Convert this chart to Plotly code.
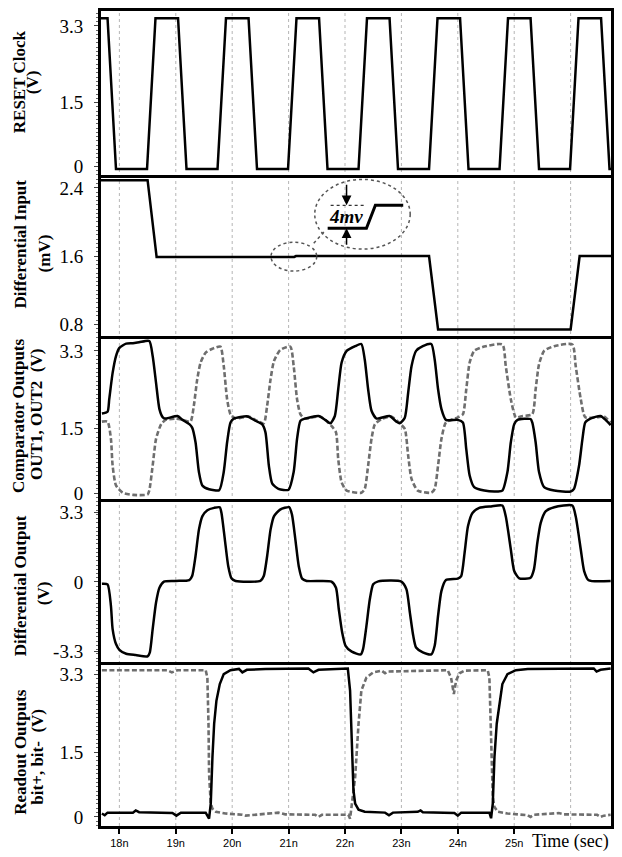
import plotly.graph_objects as go
from plotly.subplots import make_subplots

# ---------------- data (time in ns) ----------------
clock_t = [17.67, 17.79, 17.94, 18.49, 18.64, 19.04, 19.19, 19.74, 19.89, 20.29, 20.44,
           20.99, 21.14, 21.54, 21.69, 22.24, 22.39, 22.79, 22.94, 23.49, 23.64, 24.04,
           24.19, 24.74, 24.89, 25.29, 25.44, 25.99, 26.14, 26.54, 26.69, 26.72]
clock_v = [3.48, 3.48, -0.06, -0.06, 3.48, 3.48, -0.06, -0.06, 3.48, 3.48, -0.06,
           -0.06, 3.48, 3.48, -0.06, -0.06, 3.48, 3.48, -0.06, -0.06, 3.48, 3.48,
           -0.06, -0.06, 3.48, 3.48, -0.06, -0.06, 3.48, 3.48, -0.06, -0.06]

din_t = [17.67, 18.50, 18.66, 21.10, 21.13, 23.49, 23.65, 26.00, 26.16, 26.72]
din_v = [2.49, 2.49, 1.59, 1.59, 1.60, 1.60, 0.74, 0.74, 1.60, 1.60]

out1_t = [17.69, 17.79, 17.82, 17.88, 17.94, 18.00, 18.12, 18.24, 18.35, 18.53, 18.59, 18.65,
          18.71, 18.77, 18.82, 19.03, 19.12, 19.24, 19.29, 19.35, 19.41, 19.47, 19.59, 19.77,
          19.85, 19.91, 19.97, 20.03, 20.27, 20.41, 20.53, 20.59, 20.65, 20.71, 20.82, 21.00,
          21.09, 21.15, 21.21, 21.29, 21.53, 21.65, 21.74, 21.82, 21.88, 21.94, 22.03, 22.18,
          22.29, 22.35, 22.41, 22.47, 22.56, 22.79, 22.91, 22.97, 23.06, 23.12, 23.18, 23.26,
          23.38, 23.53, 23.59, 23.65, 23.71, 23.79, 24.00, 24.09, 24.15, 24.21, 24.29, 24.47,
          24.71, 24.79, 24.88, 24.94, 25.00, 25.06, 25.29, 25.32, 25.38, 25.44, 25.53, 25.71,
          26.00, 26.06, 26.15, 26.21, 26.26, 26.35, 26.53, 26.62, 26.71]
out1_v = [1.85, 1.89, 2.18, 2.79, 3.18, 3.37, 3.47, 3.48, 3.50, 3.53, 3.18, 2.56,
          1.95, 1.76, 1.73, 1.79, 1.70, 1.60, 1.52, 1.18, 0.49, 0.18, 0.09, 0.07,
          0.49, 1.18, 1.64, 1.73, 1.78, 1.68, 1.60, 1.41, 0.64, 0.22, 0.10, 0.08,
          0.49, 1.26, 1.68, 1.73, 1.79, 1.70, 1.62, 1.79, 2.41, 3.03, 3.30, 3.41,
          3.46, 3.10, 2.41, 1.91, 1.73, 1.79, 1.66, 1.62, 1.75, 2.33, 2.95, 3.30,
          3.41, 3.46, 3.10, 2.41, 1.95, 1.70, 1.70, 1.64, 1.02, 0.41, 0.14, 0.06,
          0.04, 0.06, 0.49, 1.18, 1.60, 1.70, 1.72, 1.64, 1.18, 0.49, 0.14, 0.06,
          0.04, 0.10, 0.64, 1.26, 1.64, 1.73, 1.79, 1.70, 1.58]

out2_t = [17.69, 17.79, 17.85, 17.88, 17.94, 18.06, 18.24, 18.50, 18.53, 18.59, 18.65, 18.74,
          18.82, 19.00, 19.12, 19.26, 19.32, 19.38, 19.44, 19.53, 19.65, 19.79, 19.85, 19.91,
          19.97, 20.06, 20.29, 20.44, 20.56, 20.62, 20.68, 20.74, 20.85, 21.03, 21.09, 21.15,
          21.21, 21.29, 21.56, 21.76, 21.84, 21.88, 21.94, 22.03, 22.29, 22.35, 22.41, 22.47,
          22.53, 22.65, 22.82, 22.97, 23.06, 23.12, 23.18, 23.29, 23.53, 23.59, 23.65, 23.71,
          23.79, 24.00, 24.09, 24.15, 24.21, 24.29, 24.47, 24.79, 24.85, 24.94, 25.03, 25.15,
          25.32, 25.38, 25.44, 25.53, 25.71, 26.03, 26.09, 26.18, 26.26, 26.47, 26.59, 26.71]
out2_v = [1.66, 1.66, 1.26, 0.64, 0.18, 0.01, -0.04, -0.03, 0.06, 0.64, 1.26, 1.60,
          1.70, 1.73, 1.70, 1.66, 2.03, 2.64, 3.03, 3.26, 3.35, 3.40, 2.95, 2.18,
          1.83, 1.73, 1.78, 1.68, 1.62, 2.03, 2.64, 3.06, 3.32, 3.40, 2.95, 2.18,
          1.83, 1.73, 1.78, 1.56, 1.41, 0.79, 0.25, 0.06, 0.01, 0.10, 0.64, 1.26,
          1.60, 1.72, 1.78, 1.62, 1.49, 0.87, 0.33, 0.06, 0.01, 0.10, 0.64, 1.26,
          1.64, 1.76, 1.83, 2.41, 3.03, 3.30, 3.40, 3.45, 2.95, 2.18, 1.76, 1.79,
          1.83, 2.41, 2.99, 3.30, 3.41, 3.45, 2.95, 2.18, 1.76, 1.76, 1.78, 1.64]

dout_t = [17.69, 17.79, 17.85, 17.88, 17.94, 18.00, 18.12, 18.29, 18.50, 18.54, 18.59, 18.65,
          18.71, 18.79, 19.00, 19.24, 19.29, 19.35, 19.41, 19.47, 19.56, 19.68, 19.78, 19.81,
          19.87, 19.93, 19.99, 20.06, 20.50, 20.56, 20.62, 20.68, 20.74, 20.85, 21.01, 21.06,
          21.12, 21.18, 21.24, 21.32, 21.76, 21.84, 21.89, 21.95, 22.01, 22.12, 22.28, 22.32,
          22.38, 22.44, 22.50, 22.59, 23.00, 23.09, 23.15, 23.21, 23.26, 23.38, 23.53, 23.59,
          23.65, 23.71, 23.79, 24.00, 24.06, 24.12, 24.18, 24.26, 24.38, 24.59, 24.79, 24.85,
          24.94, 25.00, 25.09, 25.29, 25.35, 25.41, 25.47, 25.56, 25.71, 26.03, 26.09, 26.18,
          26.24, 26.32, 26.71]
dout_v = [-0.08, -0.11, -1.13, -2.23, -2.94, -3.21, -3.40, -3.46, -3.52, -3.33, -2.23, -0.97,
          -0.27, 0.02, 0.05, 0.09, 0.28, 1.23, 2.48, 3.11, 3.40, 3.51, 3.54, 3.27,
          2.01, 0.75, 0.16, 0.05, 0.05, 0.28, 1.23, 2.48, 3.11, 3.43, 3.54, 3.19,
          2.01, 0.75, 0.16, 0.05, 0.02, -0.27, -1.29, -2.39, -3.02, -3.30, -3.43, -3.18,
          -2.08, -0.82, -0.11, 0.03, 0.02, -0.35, -1.45, -2.55, -3.10, -3.33, -3.43, -3.02,
          -1.60, -0.42, 0.09, 0.16, 0.28, 1.38, 2.64, 3.27, 3.51, 3.58, 3.62, 3.11,
          1.54, 0.52, 0.17, 0.20, 0.60, 1.86, 2.80, 3.35, 3.54, 3.62, 3.11, 1.54,
          0.52, 0.08, 0.05]

bitp_t = [17.69, 17.74, 17.79, 18.24, 18.29, 18.35, 18.94, 19.01, 19.09, 19.53, 19.59, 19.62,
          19.65, 19.68, 19.72, 19.78, 19.85, 19.97, 20.12, 20.18, 20.26, 20.59, 21.35, 21.44,
          21.53, 22.05, 22.09, 22.12, 22.15, 22.18, 22.24, 22.35, 22.71, 22.78, 22.85, 23.29,
          23.34, 23.38, 23.94, 24.00, 24.06, 24.56, 24.59, 24.62, 24.65, 24.69, 24.74, 24.79,
          24.88, 25.03, 25.24, 25.88, 26.41, 26.46, 26.53, 26.71]
bitp_v = [0.08, 0.04, 0.10, 0.10, 0.15, 0.11, 0.09, 0.03, 0.10, 0.10, -0.04, 0.31,
          1.39, 2.16, 2.69, 3.08, 3.31, 3.40, 3.43, 3.35, 3.41, 3.43, 3.44, 3.35,
          3.41, 3.44, 2.93, 1.77, 0.62, 0.31, 0.17, 0.12, 0.10, 0.04, 0.10, 0.12,
          0.15, 0.11, 0.09, 0.03, 0.10, 0.10, -0.03, 0.31, 1.39, 2.16, 2.69, 3.08,
          3.31, 3.40, 3.43, 3.43, 3.44, 3.37, 3.41, 3.44]

bitm_t = [17.69, 18.85, 18.93, 19.03, 19.53, 19.56, 19.58, 19.59, 19.62, 19.65, 19.71, 19.88,
          20.18, 20.24, 20.82, 20.94, 21.47, 21.53, 21.59, 22.06, 22.09, 22.12, 22.18, 22.24,
          22.29, 22.38, 22.50, 22.65, 22.71, 22.76, 23.82, 23.88, 23.93, 23.97, 24.03, 24.12,
          24.53, 24.56, 24.59, 24.62, 24.65, 24.71, 24.88, 25.24, 25.29, 25.35, 25.79, 25.88,
          26.47, 26.53, 26.59, 26.71]
bitm_v = [3.40, 3.40, 3.35, 3.40, 3.40, 3.23, 2.16, 1.00, 0.31, 0.19, 0.12, 0.08,
          0.05, 0.03, 0.10, 0.06, 0.05, 0.00, 0.05, 0.05, -0.04, 0.31, 0.92, 2.16,
          2.93, 3.23, 3.35, 3.39, 3.33, 3.37, 3.40, 3.23, 2.85, 3.16, 3.33, 3.39,
          3.40, 3.23, 1.77, 0.46, 0.23, 0.12, 0.08, 0.04, 0.00, 0.05, 0.09, 0.06,
          0.05, 0.00, 0.03, 0.05]

x_tick_vals = [18, 19, 20, 21, 22, 23, 24, 25]
x_tick_text = ["18n", "19n", "20n", "21n", "22n", "23n", "24n", "25n"]
grid_vals = [18, 19, 20, 21, 22, 23, 24, 25, 26]

y_tick_vals = [[0, 1.5, 3.3], [0.8, 1.6, 2.4], [0, 1.5, 3.3], [-3.3, 0, 3.3], [0, 1.5, 3.3]]
y_tick_text = [["0", "1.5", "3.3"], ["0.8", "1.6", "2.4"], ["0", "1.5", "3.3"],
               ["-3.3", "0", "3.3"], ["0", "1.5", "3.3"]]
y_ranges = [[-0.21, 3.65], [0.665, 2.546], [-0.14, 3.65], [-3.77, 3.92], [-0.21, 3.60]]
y_minor = [0.1, 0.05, 0.1, 0.2, 0.1]

title_lines = [
    ("RESET Clock", 19, 80), ("(V)", 32, 80),
    ("Differential Input", 20, 243), ("(mV)", 44, 252),
    ("Comparator Outputs", 18, 415), ("OUT1, OUT2  (V)", 36, 414),
    ("Differential Output", 20, 586), ("(V)", 44, 593),
    ("Readout Outputs", 20, 752), ("bit+, bit-  (V)", 37, 757),
]

# ---------------- layout geometry (pixels) ----------------
W, H = 622, 857
PL, PR, PT, PB = 101, 614, 9, 827
edges = [9, 174, 335, 499, 662, 827]
XR = [17.674, 26.716]


def px_x(px):
    return (px - PL) / (PR - PL)


def px_y(py):
    return (PB - py) / (PB - PT)


fig = make_subplots(rows=5, cols=1, vertical_spacing=0)

SOLID = dict(color="black", width=2.5)
DASH = dict(color="#6e6e6e", width=2.6, dash="5px,2.5px")

fig.add_trace(go.Scatter(x=clock_t, y=clock_v, mode="lines", line=SOLID), row=1, col=1)
fig.add_trace(go.Scatter(x=din_t, y=din_v, mode="lines", line=SOLID), row=2, col=1)
fig.add_trace(go.Scatter(x=out2_t, y=out2_v, mode="lines", line=DASH, line_shape="spline",
                         line_smoothing=0.6), row=3, col=1)
fig.add_trace(go.Scatter(x=out1_t, y=out1_v, mode="lines", line=SOLID, line_shape="spline",
                         line_smoothing=0.6), row=3, col=1)
fig.add_trace(go.Scatter(x=dout_t, y=dout_v, mode="lines", line=SOLID, line_shape="spline",
                         line_smoothing=0.6), row=4, col=1)
fig.add_trace(go.Scatter(x=bitm_t, y=bitm_v, mode="lines", line=DASH), row=5, col=1)
fig.add_trace(go.Scatter(x=bitp_t, y=bitp_v, mode="lines", line=SOLID), row=5, col=1)

tick_font = dict(family="Liberation Serif", size=19, color="black")
for i in range(5):
    n = "" if i == 0 else str(i + 1)
    top, bot = edges[i], edges[i + 1]
    xa = dict(range=XR, showline=True, linewidth=3, linecolor="black",
              mirror=(i == 0), showgrid=False, zeroline=False,
              tickvals=x_tick_vals, ticktext=x_tick_text)
    if i == 4:
        xa.update(ticks="outside", ticklen=5, tickwidth=1.5, tickcolor="black",
                  showticklabels=True,
                  tickfont=dict(family="Liberation Sans", size=11, color="black"))
    else:
        xa.update(ticks="", showticklabels=False)
    ya = dict(domain=[px_y(bot), px_y(top)], range=y_ranges[i], showline=True, linewidth=3,
              linecolor="black", mirror=True, showgrid=False, zeroline=False,
              tickmode="array", tickvals=y_tick_vals[i], ticktext=y_tick_text[i],
              ticks="outside", ticklen=4, tickwidth=1, tickcolor="#444",
              tickfont=tick_font, ticklabelstandoff=7,
              minor=dict(tickmode="linear", tick0=0, dtick=y_minor[i], ticks="outside",
                         ticklen=2, tickwidth=1, tickcolor="#666"))
    fig.update_layout(**{"xaxis" + n: xa, "yaxis" + n: ya})

shapes = []
for g in grid_vals:
    shapes.append(dict(type="line", xref="x", yref="paper", x0=g, x1=g, y0=0, y1=1,
                       line=dict(color="#b5b5b5", width=1, dash="dot"), layer="below"))

# inset annotation of the 4 mV step
DOT = dict(color="#555", width=1.5, dash="dot")
shapes += [
    dict(type="circle", xref="paper", yref="paper", x0=px_x(272), x1=px_x(318),
         y0=px_y(270), y1=px_y(241), line=DOT),
    dict(type="circle", xref="paper", yref="paper", x0=px_x(316), x1=px_x(412),
         y0=px_y(248), y1=px_y(178), line=DOT),
    dict(type="line", xref="paper", yref="paper", x0=px_x(315), x1=px_x(326),
         y0=px_y(242), y1=px_y(230), line=DOT),
    dict(type="path", xref="paper", yref="paper",
         path="M {},{} L {},{} L {},{} L {},{}".format(px_x(329), px_y(227), px_x(368), px_y(227),
                                                      px_x(377), px_y(204), px_x(405), px_y(204)),
         line=dict(color="black", width=3)),
    dict(type="line", xref="paper", yref="paper", x0=px_x(332), x1=px_x(368),
         y0=px_y(204), y1=px_y(204), line=dict(color="#333", width=1.2, dash="3px,3px")),
]

annotations = []
for text, x, y in title_lines:
    annotations.append(dict(text="<b>" + text + "</b>", xref="paper", yref="paper",
                            x=px_x(x), y=px_y(y), xanchor="center", yanchor="middle",
                            textangle=-90, showarrow=False,
                            font=dict(family="Liberation Serif", size=17, color="black")))
annotations.append(dict(text="Time (sec)", xref="paper", yref="paper", x=px_x(573),
                        y=px_y(843), xanchor="center", yanchor="middle", showarrow=False,
                        font=dict(family="Liberation Serif", size=18, color="black")))
annotations.append(dict(text="<b><i>4mv</i></b>", xref="paper", yref="paper", x=px_x(347),
                        y=px_y(215), xanchor="center", yanchor="middle", showarrow=False,
                        font=dict(family="Liberation Serif", size=19, color="black")))
for head, tail in [((348, 204), (348, 182)), ((348, 227), (348, 245))]:
    annotations.append(dict(text="", xref="paper", yref="paper", x=px_x(head[0]),
                            y=px_y(head[1]), axref="pixel", ayref="pixel",
                            ax=0, ay=tail[1] - head[1], showarrow=True, arrowhead=2,
                            arrowsize=1.3, arrowwidth=1.5, arrowcolor="black", standoff=0))

fig.update_layout(width=W, height=H, margin=dict(l=PL, r=W - PR, t=PT, b=H - PB),
                  paper_bgcolor="white", plot_bgcolor="rgba(0,0,0,0)", showlegend=False,
                  shapes=shapes, annotations=annotations)

fig.write_html("out.html", config={"displayModeBar": False},
               post_script="document.body.style.margin='0px';document.body.style.padding='0px';")
